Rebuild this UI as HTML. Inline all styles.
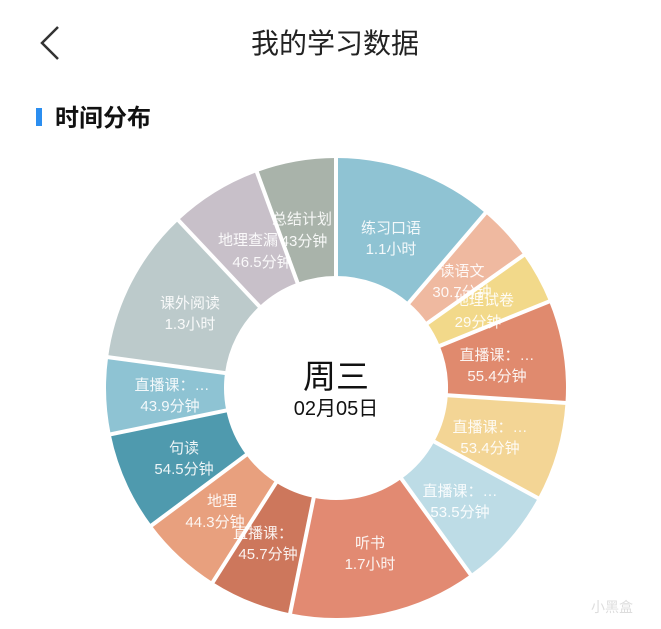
<!DOCTYPE html>
<html><head><meta charset="utf-8"><style>
html,body{margin:0;padding:0;background:#fff;}
body{width:661px;height:629px;overflow:hidden;position:relative;font-family:"Liberation Sans","Noto Sans CJK SC",sans-serif;}
svg{position:absolute;left:0;top:0;}
</style></head><body>
<svg id="s" width="661" height="629" viewBox="0 0 661 629" xmlns="http://www.w3.org/2000/svg">
<polyline points="58,27 42,43 58,59" fill="none" stroke="#333" stroke-width="2.5"/>
<text x="335" y="53" text-anchor="middle" font-size="28" fill="#222" font-family="Liberation Sans,Noto Sans CJK SC,sans-serif">我的学习数据</text>
<rect x="36" y="108" width="6" height="18" fill="#2b8ef0"/>
<text x="55" y="126" font-size="24" font-weight="bold" fill="#111" font-family="Liberation Sans,Noto Sans CJK SC,sans-serif">时间分布</text>
<g id="segs"></g>
<g id="labels" font-size="15" fill="#fff" fill-opacity="0.9" text-anchor="middle" font-family="Liberation Sans,Noto Sans CJK SC,sans-serif">
<text x="391" y="233">练习口语</text><text x="391" y="254">1.1小时</text>
<text x="462" y="276">读语文</text><text x="462" y="297">30.7分钟</text>
<text x="484" y="305">地理试卷</text><text x="478" y="327">29分钟</text>
<text x="497" y="360">直播课：…</text><text x="497" y="381">55.4分钟</text>
<text x="490" y="432">直播课：…</text><text x="490" y="453">53.4分钟</text>
<text x="460" y="496">直播课：…</text><text x="460" y="517">53.5分钟</text>
<text x="370" y="548">听书</text><text x="370" y="569">1.7小时</text>
<text x="263" y="538">直播课：</text><text x="268" y="559">45.7分钟</text>
<text x="222" y="506">地理</text><text x="215" y="527">44.3分钟</text>
<text x="184" y="453">句读</text><text x="184" y="474">54.5分钟</text>
<text x="172" y="390">直播课：…</text><text x="170" y="411">43.9分钟</text>
<text x="190" y="308">课外阅读</text><text x="190" y="329">1.3小时</text>
<text x="248" y="245">地理查漏</text><text x="262" y="267">46.5分钟</text>
<text x="302" y="224">总结计划</text><text x="304" y="246">43分钟</text>
</g>
<text x="336" y="388" text-anchor="middle" font-size="33" fill="#111" font-family="Liberation Sans,Noto Sans CJK SC,sans-serif">周三</text>
<text x="336" y="415" text-anchor="middle" font-size="20" fill="#111" font-family="Liberation Sans,Noto Sans CJK SC,sans-serif">02月05日</text>
<text x="612" y="612" text-anchor="middle" font-size="14" fill="#ddd" font-family="Liberation Sans,Noto Sans CJK SC,sans-serif">小黑盒</text>
</svg>
<script>
var cx=336,cy=388,R=230,r=112;
var b=[0,40.5,54.7,67.9,93.7,118.6,144.2,191.5,212.4,233.3,258.4,277.7,316.8,339.9,360];
var c=["#8fc3d3","#efb9a0","#f2d98a","#e08a6e","#f3d595","#bddce6","#e28a72","#cd775c","#e8a07e","#4f9aae","#8ec3d3","#bccacb","#c8c0c9","#a9b3aa"];
function p(a,rr){a=a*Math.PI/180;return [(cx+rr*Math.sin(a)).toFixed(1),(cy-rr*Math.cos(a)).toFixed(1)];}
var h="";
for(var i=0;i<14;i++){var a0=b[i],a1=b[i+1];var o0=p(a0,R),o1=p(a1,R),i1=p(a1,r),i0=p(a0,r);
var large=(a1-a0)>180?1:0;
h+='<path d="M'+o0+' A'+R+' '+R+' 0 '+large+' 1 '+o1+' L'+i1+' A'+r+' '+r+' 0 '+large+' 0 '+i0+' Z" fill="'+c[i]+'"/>';}
for(var i=0;i<14;i++){var q=p(b[i],R+5),q2=p(b[i],r-2);h+='<line x1="'+q2[0]+'" y1="'+q2[1]+'" x2="'+q[0]+'" y2="'+q[1]+'" stroke="#fff" stroke-width="4"/>';}
document.getElementById("segs").innerHTML=h;
var s=document.getElementById("s");var lab=document.getElementById("labels");s.appendChild(lab);
</script>
</body></html>
